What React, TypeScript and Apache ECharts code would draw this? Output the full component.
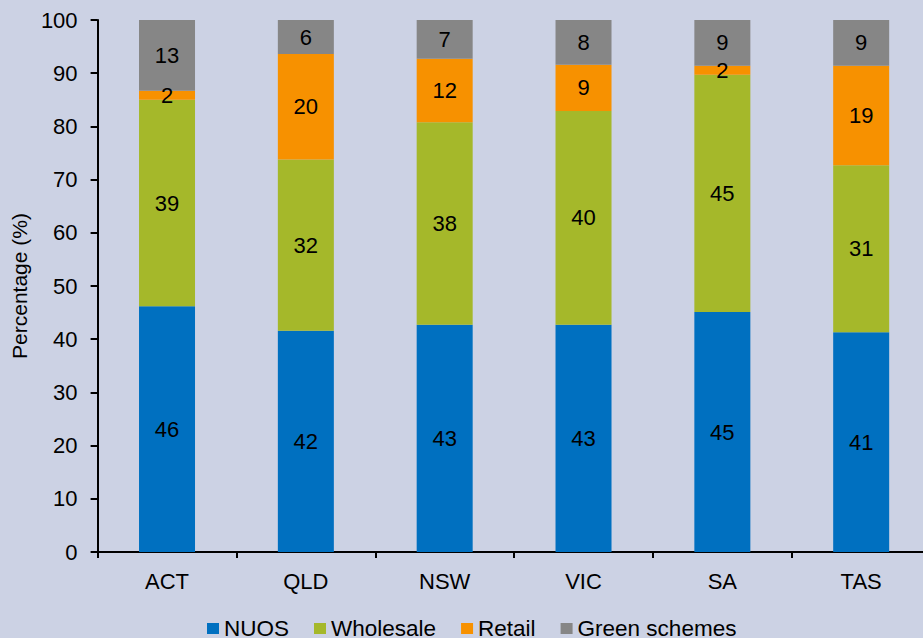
import React, { useEffect, useRef } from "react";
import * as echarts from "echarts";

const categories = ["ACT", "QLD", "NSW", "VIC", "SA", "TAS"];
const nuos = [46.2, 41.6, 42.7, 42.7, 45.1, 41.3];
const wholesale = [38.8, 32.2, 38.1, 40.2, 44.6, 31.4];
const retail = [1.7, 19.8, 11.9, 8.7, 1.7, 18.7];
const green = [13.3, 6.4, 7.3, 8.4, 8.6, 8.6];
const yTicks = { min: 0, max: 100, interval: 10 };

const FONT = "Liberation Sans, Arial, Helvetica, sans-serif";

export default function App() {
  const ref = useRef<HTMLDivElement>(null);
  useEffect(() => {
    if (!ref.current) return;
    const chart = echarts.init(ref.current, null, { renderer: "svg" });
    const label = {
      show: true,
      position: "inside",
      color: "#000",
      fontSize: 22,
      fontFamily: FONT,
      formatter: (p: any) => String(Math.round(p.value)),
    };
    const mk = (name: string, data: number[], color: string) => ({
      name,
      type: "bar",
      stack: "total",
      barWidth: 56,
      data,
      itemStyle: { color },
      label,
    });
    chart.setOption({
      animation: false,
      backgroundColor: "#ccd2e4",
      textStyle: { fontFamily: FONT },
      grid: { left: 97.6, top: 20, width: 833, height: 532, containLabel: false },
      legend: {
        top: 612,
        left: 202,
        itemWidth: 12,
        itemHeight: 11,
        itemGap: 25,
        icon: "rect",
        textStyle: { fontSize: 22.5, lineHeight: 18, color: "#000", fontFamily: FONT },
        data: ["NUOS", "Wholesale", "Retail", "Green schemes"],
      },
      xAxis: {
        type: "category",
        data: categories,
        axisLine: { lineStyle: { color: "#000", width: 2 } },
        axisTick: { show: true, length: 6, lineStyle: { color: "#000", width: 2 } },
        axisLabel: { color: "#000", fontSize: 22, margin: 18, fontFamily: FONT },
      },
      yAxis: {
        type: "value",
        min: yTicks.min,
        max: yTicks.max,
        interval: yTicks.interval,
        name: "Percentage (%)",
        nameLocation: "middle",
        nameGap: 61,
        nameTextStyle: { color: "#000", fontSize: 21, fontFamily: FONT },
        axisLine: { show: true, lineStyle: { color: "#000", width: 2 } },
        axisTick: { show: true, length: 7, lineStyle: { color: "#000", width: 2 } },
        axisLabel: { color: "#000", fontSize: 22, margin: 20, fontFamily: FONT },
        splitLine: { show: false },
      },
      series: [
        mk("NUOS", nuos, "#0070c0"),
        mk("Wholesale", wholesale, "#a5b82a"),
        mk("Retail", retail, "#f79100"),
        mk("Green schemes", green, "#868686"),
      ],
    });
    return () => chart.dispose();
  }, []);
  return (
    <div style={{ position: "fixed", left: 0, top: 0, width: 923, height: 638, overflow: "hidden" }}>
      <div ref={ref} style={{ width: 960, height: 638 }} />
    </div>
  );
}
